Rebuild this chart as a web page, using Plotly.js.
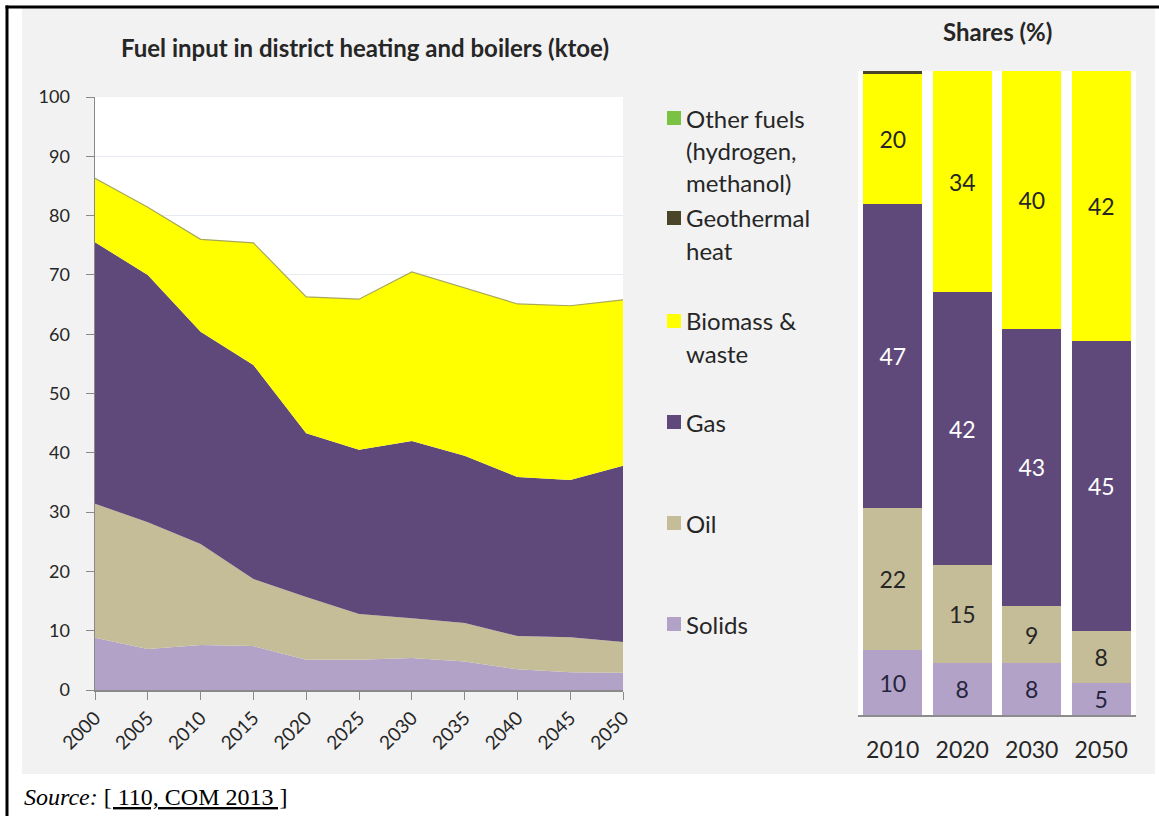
<!DOCTYPE html>
<html>
<head>
<meta charset="utf-8">
<script src="https://cdn.plot.ly/plotly-3.0.1.min.js"></script>
<style>html,body{margin:0;padding:0;background:#fff;}#chart{width:1159px;height:816px;}</style>
</head>
<body>
<div id="chart"></div>
<script>
// ---- Data (ktoe, stacked area) ----
var years = [2000, 2005, 2010, 2015, 2020, 2025, 2030, 2035, 2040, 2045, 2050];
var solids  = [8.8, 6.9, 7.6, 7.4, 5.1, 5.1, 5.4, 4.8, 3.5, 3.0, 2.9];
var oil     = [22.6, 21.4, 17.0, 11.3, 10.6, 7.7, 6.7, 6.5, 5.6, 5.9, 5.2];
var gas     = [44.1, 41.7, 35.8, 36.1, 27.6, 27.7, 29.9, 28.2, 26.8, 26.5, 29.7];
var biomass = [10.8, 11.4, 15.6, 20.6, 23.0, 25.4, 28.5, 28.3, 29.2, 29.4, 28.0];

// ---- Data (shares %, bars) ----
var shareYears = ['2010', '2020', '2030', '2050'];
var shareSolids  = [10, 8, 8, 5];
var shareOil     = [22, 15, 9, 8];
var shareGas     = [47, 42, 43, 45];
var shareBiomass = [20, 34, 40, 42];
var shareGeo     = [0.5, 0, 0, 0];
var shareOther   = [0, 0, 0, 0];

// ---- Legend entries ----
var legendNames = [['Other fuels', '(hydrogen,', 'methanol)'], ['Geothermal', 'heat'], ['Biomass &', 'waste'], ['Gas'], ['Oil'], ['Solids']];
var legendColors = ['#7CC242', '#4A4428', '#FFFF00', '#5F497A', '#C4BD97', '#B3A2C7'];

var C = {solids: '#B3A2C7', oil: '#C4BD97', gas: '#5F497A', bio: '#FFFF00', geo: '#4A4428', other: '#7CC242'};
var W = 1159, H = 816;
function px(x) { return x / W; }
function py(y) { return 1 - y / H; }
var FONT = 'Lato, "Open Sans", sans-serif';
var TXT = '#262626';

var traces = [];
function areaTrace(name, vals, color, lw, lc) {
  return {x: years, y: vals, name: name, type: 'scatter', mode: 'lines', stackgroup: 'one',
    fillcolor: color, line: {width: lw, color: lc || color}, xaxis: 'x', yaxis: 'y', hoverinfo: 'x+y+name'};
}
traces.push(areaTrace('Solids', solids, C.solids, 0));
traces.push(areaTrace('Oil', oil, C.oil, 0));
traces.push(areaTrace('Gas', gas, C.gas, 0));
traces.push(areaTrace('Biomass & waste', biomass, C.bio, 1.2, '#A9A85A'));

function barTrace(name, vals, color, tcolor, showText) {
  return {x: shareYears, y: vals, name: name, type: 'bar', xaxis: 'x2', yaxis: 'y2',
    marker: {color: color, line: {width: 0}},
    text: showText ? vals.map(String) : null, texttemplate: showText ? '%{text}' : '',
    textposition: showText ? 'inside' : 'none', insidetextanchor: 'middle', textangle: 0,
    textfont: {family: FONT, size: 23, color: tcolor}, constraintext: 'none'};
}
traces.push(barTrace('Solids', shareSolids, C.solids, '#25253d', true));
traces.push(barTrace('Oil', shareOil, C.oil, TXT, true));
traces.push(barTrace('Gas', shareGas, C.gas, '#ffffff', true));
traces.push(barTrace('Biomass & waste', shareBiomass, C.bio, TXT, true));
traces.push(barTrace('Geothermal heat', shareGeo, C.geo, TXT, false));
traces.push(barTrace('Other fuels', shareOther, C.other, TXT, false));

var shapes = [
  // white outer margins
  {type: 'rect', xref: 'paper', yref: 'paper', x0: 0, x1: px(22), y0: 0, y1: 1, fillcolor: '#ffffff', line: {width: 0}, layer: 'below'},
  {type: 'rect', xref: 'paper', yref: 'paper', x0: 0, x1: 1, y0: 0, y1: py(774), fillcolor: '#ffffff', line: {width: 0}, layer: 'below'},
  {type: 'rect', xref: 'paper', yref: 'paper', x0: px(1155), x1: 1, y0: 0, y1: 1, fillcolor: '#ffffff', line: {width: 0}, layer: 'below'},
  {type: 'rect', xref: 'paper', yref: 'paper', x0: 0, x1: 1, y0: py(8), y1: 1, fillcolor: '#ffffff', line: {width: 0}, layer: 'below'},
  // black frame lines
  {type: 'line', xref: 'paper', yref: 'paper', x0: px(5.5), x1: 1, y0: py(7), y1: py(7), line: {color: '#000', width: 3}},
  {type: 'line', xref: 'paper', yref: 'paper', x0: px(7), x1: px(7), y0: py(5.5), y1: 0, line: {color: '#000', width: 3}}
];

var annotations = [
  {text: '<b>Fuel input in district heating and boilers (ktoe)</b>', xref: 'paper', yref: 'paper', x: px(365), y: py(47),
    xanchor: 'center', yanchor: 'middle', showarrow: false, font: {family: FONT, size: 24, color: TXT}},
  {text: '<b>Shares (%)</b>', xref: 'paper', yref: 'paper', x: px(997), y: py(32),
    xanchor: 'center', yanchor: 'middle', showarrow: false, font: {family: FONT, size: 24, color: TXT}},
  {text: '<i>Source:</i> <u>[ 110, COM 2013 ]</u>', xref: 'paper', yref: 'paper', x: px(22), y: py(797),
    xanchor: 'left', yanchor: 'middle', showarrow: false, font: {family: '"Liberation Serif", "Times New Roman", serif', size: 24, color: '#000'}}
];

// legend
var legendTop = [118, 218, 321, 422, 523, 624];
legendNames.forEach(function (lines, i) {
  var y0 = legendTop[i];
  shapes.push({type: 'rect', xref: 'paper', yref: 'paper', x0: px(667), x1: px(681), y0: py(y0 + 7), y1: py(y0 - 7),
    fillcolor: legendColors[i], line: {width: 0}});
  lines.forEach(function (t, j) {
    annotations.push({text: t, xref: 'paper', yref: 'paper', x: px(684), y: py(y0 + j * 32), xanchor: 'left', yanchor: 'middle',
      showarrow: false, font: {family: FONT, size: 24, color: TXT}});
  });
});

var layout = {
  width: W, height: H, margin: {l: 0, r: 0, t: 0, b: 0},
  paper_bgcolor: '#F2F2F2', plot_bgcolor: '#FFFFFF', showlegend: false,
  barmode: 'stack', barnorm: 'percent', bargap: 0.145,
  xaxis: {domain: [px(95), px(623)], range: [2000, 2050], tickmode: 'array', tickvals: years, ticktext: years.map(String),
    tickangle: -45, ticks: 'outside', ticklen: 8, tickcolor: '#898989', showline: true, linecolor: '#898989', linewidth: 1.5,
    showgrid: false, zeroline: false, tickfont: {family: FONT, size: 19, color: TXT}, anchor: 'y', fixedrange: true},
  yaxis: {domain: [py(690), py(97)], range: [0, 100], dtick: 10, ticks: 'outside', ticklen: 8, tickcolor: '#898989',
    showline: true, linecolor: '#898989', linewidth: 1.5, showgrid: true, gridcolor: '#E6EAF1', zeroline: false,
    tickfont: {family: FONT, size: 18, color: TXT}, ticklabelstandoff: 12, anchor: 'x', fixedrange: true},
  xaxis2: {domain: [px(858), px(1136)], type: 'category', ticks: '', showline: true, linecolor: '#8c8c8c', linewidth: 1.5,
    showgrid: false, zeroline: false, tickfont: {family: FONT, size: 23, color: TXT}, ticklabelstandoff: 14, anchor: 'y2', fixedrange: true},
  yaxis2: {domain: [py(715), py(71)], range: [0, 100], visible: false, showgrid: false, zeroline: false, anchor: 'x2', fixedrange: true},
  shapes: shapes, annotations: annotations
};

Plotly.newPlot('chart', traces, layout, {displayModeBar: false, staticPlot: true});
</script>
</body>
</html>
